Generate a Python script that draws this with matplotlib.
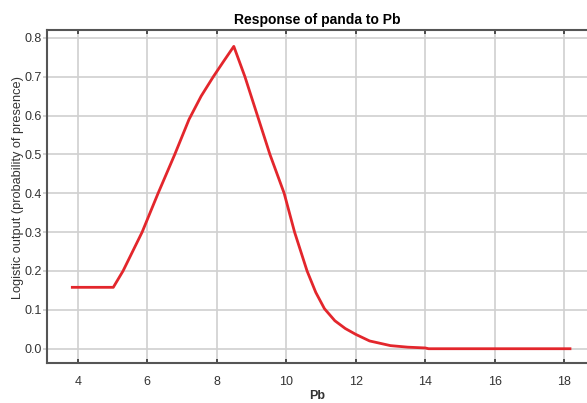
import numpy as np
import matplotlib
matplotlib.use("Agg")
import matplotlib.pyplot as plt

plt.rcParams['font.family'] = ['Liberation Sans', 'DejaVu Sans']

# response curve
pb = [3.84, 5.02, 5.3, 5.85, 6.31, 6.79, 7.2, 7.55, 7.9, 8.2, 8.49, 8.81, 9.17, 9.53, 9.94,
      10.24, 10.6, 10.85, 11.1, 11.4, 11.7, 12.0, 12.4, 13.0, 13.5, 14.0, 14.1, 18.17]
prob = [0.158, 0.158, 0.2, 0.3, 0.4, 0.5, 0.59, 0.65, 0.7, 0.74, 0.778, 0.7, 0.6, 0.5, 0.4,
        0.3, 0.2, 0.145, 0.103, 0.072, 0.052, 0.037, 0.02, 0.008, 0.004, 0.002, 0.0, 0.0]
xticks = [4, 6, 8, 10, 12, 14, 16, 18]
yticks = [0.0, 0.1, 0.2, 0.3, 0.4, 0.5, 0.6, 0.7, 0.8]

fig = plt.figure(figsize=(5.87, 4.03), dpi=100)
ax = fig.add_axes([0.080, 0.099, 0.920, 0.827])

ax.plot(pb, prob, color='#e3262c', lw=2.0, zorder=3)

ax.set_xlim(3.11, 18.66)
ax.set_ylim(-0.037, 0.8206)
ax.set_xticks(xticks)
ax.set_yticks(yticks)
ax.set_yticklabels(['{:.1f}'.format(v) for v in yticks])
ax.grid(True, color='#d0d0d0', lw=1.2)
ax.set_axisbelow(True)

for s in ['left', 'top', 'bottom']:
    ax.spines[s].set_color('#555555')
    ax.spines[s].set_linewidth(1.5)
ax.spines['right'].set_visible(False)

ax.tick_params(axis='x', direction='in', top=True, length=3, width=1.2, color='#333333',
               labelsize=9, labelcolor='#333333', pad=9.5)
ax.tick_params(axis='y', direction='out', length=3, width=1.2, color='#cccccc',
               labelsize=9, labelcolor='#333333', pad=1)

ax.set_title('Response of panda to Pb', fontsize=10, fontweight='bold', pad=4)
ax.set_xlabel('Pb', fontsize=9, fontweight='bold', color='#333333', labelpad=1)
ax.set_ylabel('Logistic output (probability of presence)', fontsize=9.2, color='#333333')
ax.yaxis.set_label_coords(-0.0426, 0.527)

fig.savefig('out.png', dpi=100)
